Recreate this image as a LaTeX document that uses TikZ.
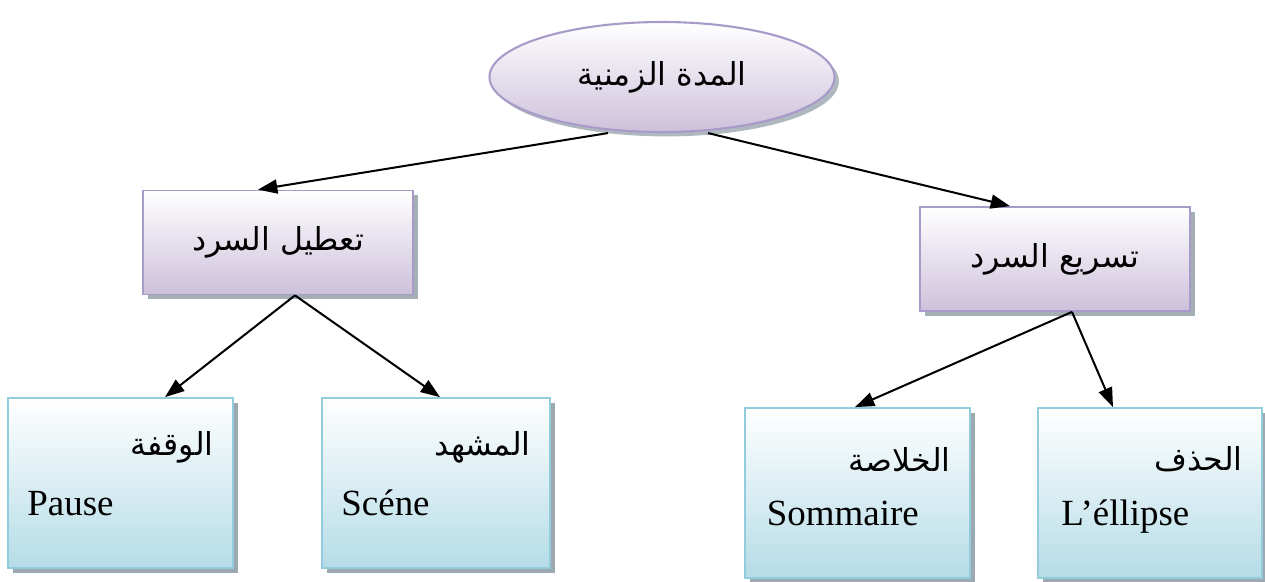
\documentclass[tikz,border=0pt]{standalone}
\usepackage{fontspec}
\setmainfont{Liberation Serif}
\newfontfamily\arabicfont[Script=Arabic]{DejaVu Sans}
\TeXXeTstate=1
\usepackage{xcolor}
\usepackage{tikz}
\usetikzlibrary{shapes.geometric, arrows.meta, positioning, shadows}
\definecolor{lavborder}{HTML}{A99BC9}
\definecolor{lavfill}{HTML}{CDC1DB}
\definecolor{aquaborder}{HTML}{93CDDD}
\definecolor{aquafill}{HTML}{B5DCE7}
\definecolor{shadowgrey}{HTML}{8C9AA3}

\newcommand{\ar}[1]{{\arabicfont\beginR #1\endR}}

\tikzset{
    topoval/.style={ellipse, draw=lavborder, line width=1.2pt, top color=white, bottom color=lavfill,
        minimum width=6.9cm, minimum height=2.2cm,
        drop shadow={shadow xshift=2.5pt, shadow yshift=-2.5pt, fill=shadowgrey, opacity=0.7}},
    lavbox/.style={rectangle, draw=lavborder, line width=1pt, top color=white, bottom color=lavfill,
        minimum width=5.4cm, minimum height=2.08cm,
        drop shadow={shadow xshift=2.8pt, shadow yshift=-2.8pt, fill=shadowgrey, opacity=0.8}},
    aquabox/.style={rectangle, draw=aquaborder, line width=1pt, top color=white, bottom color=aquafill,
        minimum width=4.5cm, minimum height=3.4cm,
        drop shadow={shadow xshift=2.8pt, shadow yshift=-2.8pt, fill=shadowgrey, opacity=0.85}},
    artext/.style={font=\fontsize{18}{21}\selectfont, inner sep=0pt},
    latext/.style={font=\fontsize{21}{24}\selectfont, inner sep=0pt, anchor=base west},
    link/.style={-{Triangle[length=11pt,width=8pt]}, line width=1.15pt}
}

\begin{document}
\begin{tikzpicture}
\useasboundingbox (0,0) rectangle (25.3,-11.62);

% top
\node[topoval, artext] (duration) at (13.24,-1.54) {\ar{المدة الزمنية}};

% second level
\node[lavbox, artext] (slow) at (5.56,-4.85) {\ar{تعطيل السرد}};
\node[lavbox, artext] (fast) at (21.1,-5.18) {\ar{تسريع السرد}};

% leaves
\node[aquabox] (pause) at (2.41,-9.66) {};
\node[aquabox, minimum width=4.56cm] (scene) at (8.72,-9.66) {};
\node[aquabox] (summary) at (17.15,-9.86) {};
\node[aquabox, minimum width=4.48cm] (ellipsis) at (23.0,-9.86) {};

\node[artext, anchor=east] (pauseAr) at ([xshift=-0.4cm,yshift=-1.0cm]pause.north east) {\ar{الوقفة}};
\node[latext] (pauseFr) at ([xshift=0.4cm,yshift=-0.64cm]pause.west) {Pause};
\node[artext, anchor=east] (sceneAr) at ([xshift=-0.4cm,yshift=-1.0cm]scene.north east) {\ar{المشهد}};
\node[latext] (sceneFr) at ([xshift=0.4cm,yshift=-0.64cm]scene.west) {Scéne};
\node[artext, anchor=east] (summaryAr) at ([xshift=-0.4cm,yshift=-1.05cm]summary.north east) {\ar{الخلاصة}};
\node[latext] (summaryFr) at ([xshift=0.45cm,yshift=-0.64cm]summary.west) {Sommaire};
\node[artext, anchor=east] (ellipsisAr) at ([xshift=-0.4cm,yshift=-1.05cm]ellipsis.north east) {\ar{الحذف}};
\node[latext] (ellipsisFr) at ([xshift=0.48cm,yshift=-0.64cm]ellipsis.west) {L’éllipse};

% arrows
\draw[link] ([xshift=-1.08cm]duration.south) -- ([xshift=-0.4cm]slow.north);
\draw[link] ([xshift=0.92cm]duration.south) -- ([xshift=-0.9cm]fast.north);
\draw[link] ([xshift=0.34cm]slow.south) -- ([xshift=0.89cm]pause.north);
\draw[link] ([xshift=0.34cm]slow.south) -- ([xshift=0.08cm]scene.north);
\draw[link] ([xshift=0.34cm]fast.south) -- ([xshift=-0.05cm]summary.north);
\draw[link] ([xshift=0.34cm]fast.south) -- ([xshift=-0.74cm]ellipsis.north);
\end{tikzpicture}
\end{document}
